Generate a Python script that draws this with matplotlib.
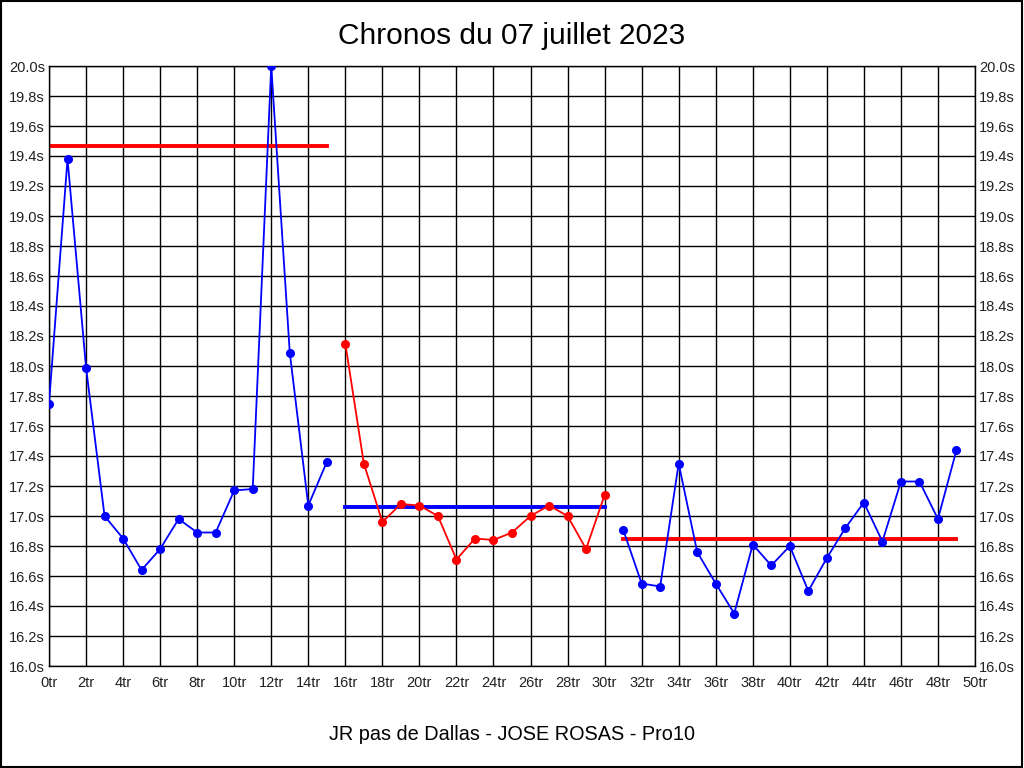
import matplotlib
matplotlib.use("Agg")
import matplotlib.pyplot as plt
from matplotlib.ticker import MultipleLocator, FuncFormatter

plt.rcParams['font.family'] = ['Liberation Sans', 'DejaVu Sans']

title = "Chronos du 07 juillet 2023"
xlabel = "JR pas de Dallas - JOSE ROSAS - Pro10"

laps1 = list(range(0, 16))
times1 = [17.75, 19.38, 17.99, 17.00, 16.85, 16.64, 16.78, 16.98, 16.89, 16.89,
          17.17, 17.18, 20.00, 18.09, 17.07, 17.36]
mean1 = 19.47

laps2 = list(range(16, 31))
times2 = [18.15, 17.35, 16.96, 17.08, 17.07, 17.00, 16.71, 16.85, 16.84, 16.89,
          17.00, 17.07, 17.00, 16.78, 17.14]
mean2 = 17.06

laps3 = list(range(31, 50))
times3 = [16.91, 16.55, 16.53, 17.35, 16.76, 16.55, 16.35, 16.81, 16.67, 16.80,
          16.50, 16.72, 16.92, 17.09, 16.83, 17.23, 17.23, 16.98, 17.44]
mean3 = 16.85

segments = [
    (laps1, times1, mean1, "#0000FF", "#FF0000"),
    (laps2, times2, mean2, "#FF0000", "#0000FF"),
    (laps3, times3, mean3, "#0000FF", "#FF0000"),
]

fig = plt.figure(figsize=(10.24, 7.68), dpi=100)
fig.patch.set_facecolor("white")
ax = fig.add_axes([49/1024, 1 - 666/768, (975-49)/1024, 600/768])

for laps, times, mean, col, mcol in segments:
    ax.plot(laps, times, color=col, lw=1.3, marker="o", ms=5.5, zorder=3)
    ax.plot([laps[0], laps[-1]], [mean, mean], color=mcol, lw=2.8, zorder=2)

ax.set_xlim(0, 50)
ax.set_ylim(16.0, 20.0)
ax.xaxis.set_major_locator(MultipleLocator(2))
ax.yaxis.set_major_locator(MultipleLocator(0.2))
ax.xaxis.set_major_formatter(FuncFormatter(lambda v, p: f"{int(round(v))}tr"))
ax.yaxis.set_major_formatter(FuncFormatter(lambda v, p: f"{v:.1f}s"))
ax.grid(True, color="black", lw=1)
ax.set_axisbelow(True)
ax.tick_params(axis="both", length=0, labelsize=10.5, colors="#222222")
ax.tick_params(axis="x", pad=7)
ax.tick_params(axis="y", labelright=True, right=False, pad=3)
for s in ax.spines.values():
    s.set_color("black")
    s.set_linewidth(1)

fig.text(0.5, 1 - 36/768, title, ha="center", va="center", fontsize=21.5)
fig.text(0.5, 1 - 735/768, xlabel, ha="center", va="center", fontsize=14.3)

border = plt.Rectangle((0.0005, 0.0007), 0.998, 0.998, transform=fig.transFigure,
                       fill=False, edgecolor="black", lw=1.5)
fig.patches.append(border)

fig.savefig("out.png", dpi=100)
